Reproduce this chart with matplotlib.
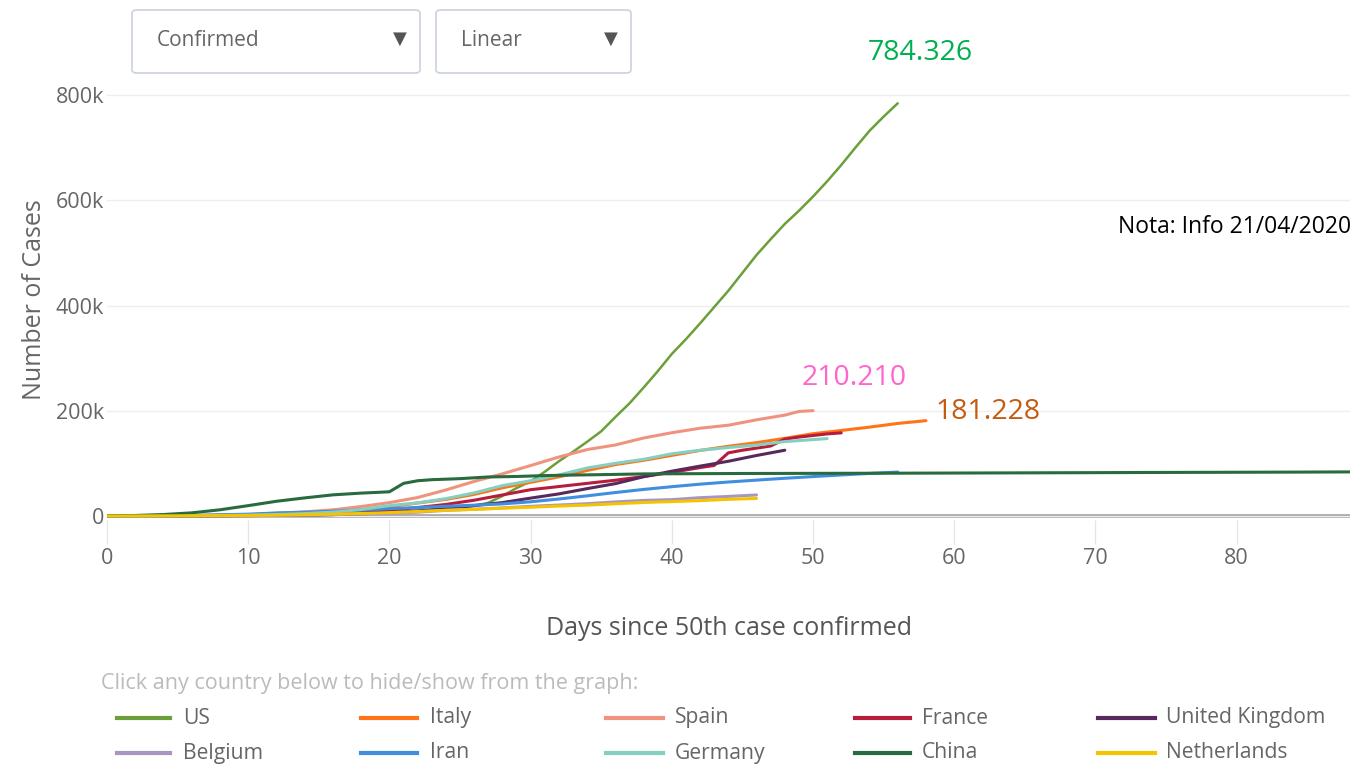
import matplotlib
matplotlib.use("Agg")
import matplotlib.pyplot as plt
from matplotlib.patches import FancyBboxPatch
from matplotlib.lines import Line2D

plt.rcParams["font.family"] = ["Open Sans", "DejaVu Sans"]

# days since 50th case / confirmed cases (thousands)
us_days = [0, 4, 8, 12, 14, 16, 18, 20, 22, 24, 26, 27, 28, 29, 30, 31, 32, 33, 34, 35, 36, 37, 38, 39,
           40, 41, 42, 43, 44, 45, 46, 47, 48, 49, 50, 51, 52, 53, 54, 55, 56]
us_cases = [0.05, 0.1, 0.2, 0.6, 1.0, 2.0, 3.5, 6.4, 9.5, 12, 19, 25, 38, 53, 66, 84, 104, 122, 141, 161, 188, 214, 244, 275,
            308, 336, 366, 397, 428, 462, 496, 526, 555, 580, 607, 636, 667, 700, 732, 759, 784.3]

italy_days = list(range(0, 59, 2))
italy_cases = [0.06, 0.23, 0.45, 0.89, 1.7, 2.5, 3.9, 5.9, 9.2, 12.5, 17.7, 24.7, 31.5, 41.0, 53.6,
               63.9, 74.4, 86.5, 97.7, 105.8, 115.2, 124.6, 132.5, 139.4, 147.6, 156.4, 162.5, 168.9, 175.9, 181.2]

spain_days = list(range(0, 49, 2)) + [49, 50]
spain_cases = [0.08, 0.17, 0.28, 0.5, 1.2, 2.3, 5.2, 7.8, 11.7, 18.0, 25.4, 35.1, 49.5, 65.7, 80.1,
               95.9, 112.1, 126.2, 135.0, 148.2, 158.3, 166.8, 172.5, 182.8, 191.7, 198.7, 200.2]

france_days = [0, 5, 10, 15, 18, 20, 22, 24, 26, 28, 30, 32, 34, 36, 38, 40, 42, 43, 44, 45, 46, 47, 48, 49, 50, 51, 52]
france_cases = [0.1, 0.3, 1.5, 4.5, 7.7, 11, 16, 22, 30, 40, 50, 56, 62, 68, 75, 83, 92, 96, 120, 125, 129, 133, 146, 150,
                153, 156, 158]

uk_days = list(range(0, 49, 2))
uk_cases = [0.05, 0.12, 0.21, 0.32, 0.46, 0.8, 1.1, 1.9, 2.7, 5.1, 6.7, 9.6, 14.7, 19.8, 25.5,
            34.0, 42.0, 52.0, 61.5, 74.6, 85.2, 94.8, 104.0, 115.0, 125.0]

belgium_days = list(range(0, 47, 2))
belgium_cases = [0.05, 0.17, 0.24, 0.31, 0.6, 0.89, 1.2, 1.8, 2.8, 3.7, 4.9, 7.3, 10.8, 12.8, 15.3,
                 18.4, 20.8, 23.4, 26.7, 29.6, 31.1, 34.8, 37.2, 40.0]

iran_days = list(range(0, 57, 2))
iran_cases = [0.06, 0.14, 0.39, 1.0, 2.3, 3.5, 5.8, 7.2, 9.0, 11.4, 13.9, 16.2, 18.4, 20.6, 23.0,
              27.0, 32.3, 38.3, 44.6, 50.5, 55.7, 60.5, 64.6, 68.2, 71.7, 74.9, 78.0, 80.9, 83.5]

germany_days = list(range(0, 49, 2)) + [51]
germany_cases = [0.08, 0.16, 0.26, 0.67, 1.0, 1.5, 2.7, 4.6, 7.3, 12.3, 19.8, 24.9, 33.0, 43.9, 57.7,
                 66.9, 77.9, 91.2, 100.1, 107.7, 118.2, 124.9, 130.1, 134.8, 141.4, 147.1]

china_days = [0, 2, 4, 6, 8, 10, 12, 14, 16, 18, 20, 21, 22, 23, 25, 27, 29, 31, 33, 35, 38, 45, 55, 65, 75, 84, 88]
china_cases = [0.5, 1.0, 2.8, 6.0, 11.8, 19.7, 28.0, 34.4, 40.2, 43.5, 46.0, 62.0, 67.0, 69.0, 71.0, 74.2, 75.1,
               76.8, 77.8, 78.6, 80.0, 80.8, 81.3, 82.0, 82.8, 83.4, 83.8]

netherlands_days = list(range(0, 47, 2))
netherlands_cases = [0.08, 0.19, 0.32, 0.5, 0.8, 1.1, 1.7, 2.5, 3.6, 4.8, 6.4, 8.6, 10.9, 12.7, 14.8,
                     16.7, 18.9, 20.7, 23.2, 25.7, 27.4, 29.2, 31.6, 33.4]

countries = ["US", "Italy", "Spain", "France", "United Kingdom",
             "Belgium", "Iran", "Germany", "China", "Netherlands"]
series = [(us_days, us_cases), (italy_days, italy_cases), (spain_days, spain_cases),
          (france_days, france_cases), (uk_days, uk_cases), (belgium_days, belgium_cases),
          (iran_days, iran_cases), (germany_days, germany_cases), (china_days, china_cases),
          (netherlands_days, netherlands_cases)]
colors = ["#6b9f3a", "#ff7417", "#f0937e", "#b81c3c", "#57295c",
          "#a895c2", "#3f8ee0", "#84cfc0", "#276b3f", "#f5c400"]

y_ticks = [0, 200, 400, 600, 800]
y_labels = ["0", "200k", "400k", "600k", "800k"]
x_ticks = [0, 10, 20, 30, 40, 50, 60, 70, 80]

fig = plt.figure(figsize=(13.66, 7.65), dpi=100)
ax = fig.add_axes([107 / 1366, 1 - 520 / 765, 1243 / 1366, 440 / 765])

ax.axhline(0, color="#a0a0a0", lw=2.6, zorder=1)
for (d, c), col in zip(series, colors):
    lw = 1.8 if col == "#6b9f3a" else 2.2
    ax.plot(d, [v * 1000 for v in c], color=col, lw=lw, solid_capstyle="round", zorder=3)

ax.set_xlim(0, 88.03)
ax.set_ylim(-7600, 828600)
ax.set_yticks([v * 1000 for v in y_ticks])
ax.set_yticklabels(y_labels)
ax.set_xticks(x_ticks)
for s in ax.spines.values():
    s.set_visible(False)
ax.grid(axis="y", color="#eeeeee", lw=1, zorder=0)
ax.tick_params(axis="y", length=0, pad=2, labelsize=15.5, labelcolor="#666666")
ax.tick_params(axis="x", length=17, width=1, color="#e6e6e6", pad=3, labelsize=15.5, labelcolor="#666666")
ax.set_ylabel("Number of Cases", fontsize=18, color="#666666", labelpad=6)
ax.set_xlabel("Days since 50th case confirmed", fontsize=18, color="#555555", labelpad=34)

# value callouts
ax.text(57.6, 880000, "784.326", color="#00b050", fontsize=20.5, ha="center", va="center")
ax.text(52.9, 262000, "210.210", color="#ff66cc", fontsize=20.5, ha="center", va="center")
ax.text(58.7, 198000, "181.228", color="#c55a11", fontsize=20.5, ha="left", va="center")
fig.text(1118 / 1366, 1 - 227 / 765, "Nota: Info 21/04/2020", color="black", fontsize=16.5, va="center")

# dropdown boxes
for x0, x1, label in [(132, 420, "Confirmed"), (436, 631, "Linear")]:
    box = FancyBboxPatch((x0 / 1366, 1 - 73 / 765), (x1 - x0) / 1366, 63 / 765,
                         boxstyle="round,pad=0,rounding_size=0.004", transform=fig.transFigure,
                         facecolor="white", edgecolor="#c9d2de", lw=1.2)
    fig.patches.append(box)
    fig.text((x0 + 25) / 1366, 1 - 41 / 765, label, color="#666666", fontsize=15, va="center")
    fig.text((x1 - 20) / 1366, 1 - 39 / 765, "▼", color="#555555", fontsize=13, ha="center", va="center",
             family="DejaVu Sans")

# legend
fig.text(101 / 1366, 1 - 683 / 765, "Click any country below to hide/show from the graph:",
         color="#bbbbbb", fontsize=15.5, va="center")
line_x = [(117, 170), (361, 417), (606, 663), (855, 910), (1098, 1155)]
text_x = [183, 430, 675, 922, 1166]
rows = [718, 753]
for i, (name, col) in enumerate(zip(countries, colors)):
    r, c = divmod(i, 5)
    y = 1 - rows[r] / 765
    fig.lines.append(Line2D([line_x[c][0] / 1366, line_x[c][1] / 1366], [y, y], color=col, lw=3,
                            transform=fig.transFigure))
    fig.text(text_x[c] / 1366, y, name, color="#666666", fontsize=15.2, va="center")

plt.savefig("out.png", dpi=100)
